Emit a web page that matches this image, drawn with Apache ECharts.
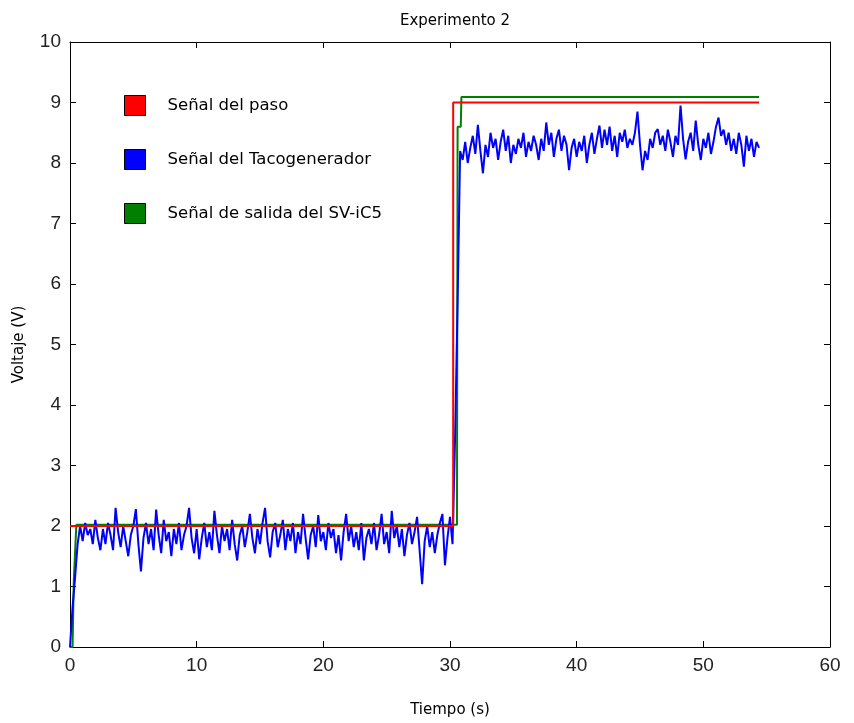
<!DOCTYPE html>
<html>
<head>
<meta charset="utf-8">
<script src="https://cdn.jsdelivr.net/npm/echarts@6/dist/echarts.min.js"></script>
<style>html,body{margin:0;padding:0;background:#fff}#c{width:854px;height:723px}</style>
</head>
<body>
<div id="c"></div>
<script>
// ---- data ----
const title = 'Experimento 2';
const xName = 'Tiempo (s)';
const yName = 'Voltaje (V)';
const seriesNames = ['Señal del paso', 'Señal del Tacogenerador', 'Señal de salida del SV-iC5'];

// Step signal (time, value)
const stepT = [0, 30.25, 30.25, 54.4];
const stepV = [2, 2, 9, 9];

// SV-iC5 output (time, value)
const outT = [0, 0.2, 0.3, 0.5, 30.55, 30.6, 30.85, 30.9, 54.4];
const outV = [0, 0, 1.1, 2.02, 2.02, 8.6, 8.6, 9.09, 9.09];

// Tachogenerator, sampled every 0.2 s starting at t = 0
const tachoDt = 0.2;
const tachoV = [
 0, 0.65, 1.15, 1.7, 2.0, 1.75, 2.05, 1.85, 1.95, 1.7,
 2.1, 1.8, 1.6, 1.95, 1.7, 2.05, 1.85, 1.6, 2.3, 1.9,
 1.65, 2.0, 1.75, 1.5, 1.85, 2.0, 2.28, 1.7, 1.25, 1.8,
 2.05, 1.7, 1.95, 1.6, 2.27, 1.85, 1.55, 2.1, 1.75, 1.9,
 1.5, 1.95, 1.7, 2.05, 1.6, 1.85, 2.0, 2.3, 1.8, 1.55,
 1.95, 1.45, 1.8, 2.05, 1.65, 1.9, 1.6, 2.25, 1.85, 1.55,
 2.0, 1.75, 1.95, 1.6, 2.1, 1.7, 1.43, 1.85, 2.0, 1.65,
 1.9, 2.2, 1.8, 1.55, 1.95, 1.7, 2.05, 2.3, 1.75, 1.48,
 1.9, 2.05, 1.65, 1.85, 2.1, 1.6, 1.95, 1.75, 2.05, 1.55,
 1.9, 1.7, 2.2, 1.8, 1.45, 1.85, 2.0, 1.65, 2.18, 1.75,
 1.9, 1.6, 2.05, 1.8, 1.95, 1.55, 1.85, 1.43, 1.9, 2.2,
 1.75, 2.0, 1.65, 1.9, 1.6, 2.05, 1.43, 1.8, 1.95, 1.7,
 2.05, 1.6, 1.85, 2.2, 1.7, 1.9, 1.55, 2.25, 1.8, 2.0,
 1.65, 1.95, 1.5, 1.85, 2.05, 1.7, 1.9, 2.15, 1.6, 1.04,
 1.75, 2.0, 1.65, 1.9, 1.55, 1.85, 2.05, 2.2, 1.35, 1.8,
 2.15, 1.7, 3.45, 5.7, 8.2, 8.05, 8.35, 8.0, 8.25, 8.45,
 8.15, 8.63, 8.2, 7.83, 8.3, 8.1, 8.5, 8.25, 8.4, 8.05,
 8.35, 8.55, 8.2, 8.45, 8.0, 8.3, 8.15, 8.4, 8.25, 8.5,
 8.1, 8.35, 8.2, 8.45, 8.3, 8.05, 8.4, 8.2, 8.67, 8.3,
 8.5, 8.1, 8.4, 8.55, 8.2, 8.45, 8.3, 7.88, 8.25, 8.4,
 8.1, 8.35, 8.2, 8.45, 8.0, 8.3, 8.5, 8.15, 8.4, 8.62,
 8.25, 8.55, 8.3, 8.6, 8.2, 8.45, 8.1, 8.5, 8.35, 8.55,
 8.25, 8.4, 8.3, 8.5, 8.85, 8.3, 7.88, 8.2, 8.05, 8.4,
 8.25, 8.5, 8.56, 8.3, 8.45, 8.2, 8.55, 8.35, 8.1, 8.45,
 8.3, 8.95, 8.4, 8.06, 8.35, 8.5, 8.2, 8.7, 8.3, 8.05,
 8.4, 8.25, 8.5, 8.15, 8.35, 8.6, 8.75, 8.45, 8.55, 8.3,
 8.5, 8.2, 8.4, 8.15, 8.5, 8.3, 7.94, 8.45, 8.2, 8.4,
 8.1, 8.35, 8.25
];

const xMin = 0, xMax = 60, xStep = 10;
const yMin = 0, yMax = 10, yStep = 1;

// ---- build ----
const zip = (t, v) => t.map((x, i) => [x, v[i]]);
const tachoData = tachoV.map((v, i) => [+(i * tachoDt).toFixed(2), v]);

const chart = echarts.init(document.getElementById('c'), null, {renderer: 'canvas'});
const FONT = 'Liberation Sans, Arial, sans-serif';
const WFONT = 'DejaVu Sans, Liberation Sans, sans-serif';
const axisCommon = {
  axisLine: {show: true, onZero: false, lineStyle: {color: '#000', width: 1}},
  axisTick: {show: true, inside: true, length: 6, lineStyle: {color: '#000'}},
  splitLine: {show: false}
};
chart.setOption({
  animation: false,
  backgroundColor: '#fff',
  title: {
    text: title, left: 450, top: 9, textAlign: 'center',
    textStyle: {fontFamily: WFONT, fontSize: 15, fontWeight: 'normal', color: '#000'}
  },
  legend: {
    orient: 'vertical', left: 119, top: 90, itemWidth: 21, itemHeight: 20, itemGap: 33,
    icon: 'rect',
    itemStyle: {borderColor: '#000', borderWidth: 1},
    textStyle: {fontFamily: WFONT, fontSize: 16.5, color: '#000', padding: [0, 0, 0, 17]},
    data: seriesNames
  },
  grid: {left: 70, right: 24, top: 42, bottom: 76},
  xAxis: [
    Object.assign({
      type: 'value', min: xMin, max: xMax, interval: xStep, position: 'bottom',
      name: xName, nameLocation: 'middle', nameGap: 56,
      nameTextStyle: {fontFamily: WFONT, fontSize: 15, color: '#000'},
      axisLabel: {fontFamily: FONT, fontSize: 19, color: '#222', margin: 9}
    }, axisCommon),
    Object.assign({
      type: 'value', min: xMin, max: xMax, interval: xStep, position: 'top',
      axisLabel: {show: false}
    }, axisCommon)
  ],
  yAxis: [
    Object.assign({
      type: 'value', min: yMin, max: yMax, interval: yStep, position: 'left',
      name: yName, nameLocation: 'middle', nameGap: 43, nameRotate: 90,
      nameTextStyle: {fontFamily: WFONT, fontSize: 15, color: '#000'},
      axisLabel: {fontFamily: FONT, fontSize: 19, color: '#222', margin: 9}
    }, axisCommon),
    Object.assign({
      type: 'value', min: yMin, max: yMax, interval: yStep, position: 'right',
      axisLabel: {show: false}
    }, axisCommon)
  ],
  series: [
    {
      name: seriesNames[0], type: 'line', data: zip(stepT, stepV), showSymbol: false, symbol: 'none',
      lineStyle: {color: '#ff0000', width: 2}, itemStyle: {color: '#ff0000'}, z: 5
    },
    {
      name: seriesNames[1], type: 'line', data: tachoData, showSymbol: false, symbol: 'none',
      lineStyle: {color: '#0000ff', width: 2}, itemStyle: {color: '#0000ff'}, z: 4
    },
    {
      name: seriesNames[2], type: 'line', data: zip(outT, outV), showSymbol: false, symbol: 'none',
      lineStyle: {color: '#008000', width: 2}, itemStyle: {color: '#008000'}, z: 3
    }
  ]
});
</script>
</body>
</html>
